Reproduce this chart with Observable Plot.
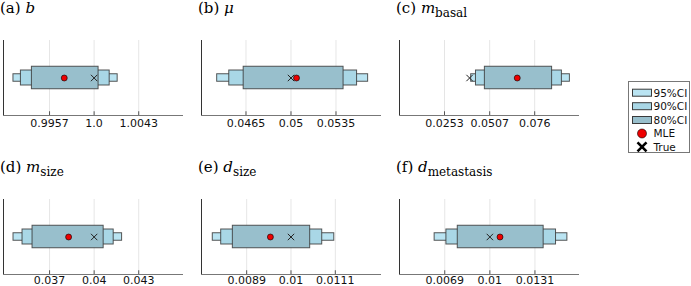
<!DOCTYPE html>
<html>
<head>
<meta charset="utf-8">
<script src="https://cdn.jsdelivr.net/npm/d3@7"></script>
<script src="https://cdn.jsdelivr.net/npm/@observablehq/plot@0.6"></script>
<style>
  html, body { margin: 0; padding: 0; background: #fff; }
  #chart { position: relative; width: 691px; height: 286px; overflow: hidden; background: #fff; }
  .panel { position: absolute; }
  .title { position: absolute; font-family: "DejaVu Serif", serif; font-size: 15px; line-height: 15px; color: #000; white-space: nowrap; }
  .title .sub { font-style: normal; font-size: 12px; position: relative; top: 4px; }
  .legend { position: absolute; left: 0; top: 0; }
</style>
</head>
<body>
<div id="chart"></div>
<script>
// ---- data ----
const panelLetters = ["a", "b", "c", "d", "e", "f"];
const paramSymbols = ["b", "μ", "m", "m", "d", "d"];
const paramSubscripts = ["", "", "basal", "size", "size", "metastasis"];

const ci95Low  = [0.99222, 0.04426, 0.0403, 0.034573, 0.008059, 0.006205];
const ci95High = [1.00227, 0.05600, 0.0958, 0.041881, 0.011074, 0.015329];
const ci90Low  = [0.99294, 0.04520, 0.0430, 0.035180, 0.008268, 0.007014];
const ci90High = [1.00150, 0.05514, 0.0913, 0.041315, 0.010775, 0.014548];
const ci80Low  = [0.99400, 0.04632, 0.0480, 0.035854, 0.008557, 0.007795];
const ci80High = [1.00043, 0.05409, 0.0858, 0.040640, 0.010476, 0.013698];
const mleValues  = [0.99712, 0.05043, 0.0662, 0.038281, 0.009489, 0.010698];
const trueValues = [1.0, 0.05, 0.0394, 0.04, 0.01, 0.01];

const tickValues = [
  [0.9957, 1.0, 1.0043],
  [0.0465, 0.05, 0.0535],
  [0.0253, 0.0507, 0.076],
  [0.037, 0.04, 0.043],
  [0.0089, 0.01, 0.0111],
  [0.0069, 0.01, 0.0131]
];
const tickLabels = [
  ["0.9957", "1.0", "1.0043"],
  ["0.0465", "0.05", "0.0535"],
  ["0.0253", "0.0507", "0.076"],
  ["0.037", "0.04", "0.043"],
  ["0.0089", "0.01", "0.0111"],
  ["0.0069", "0.01", "0.0131"]
];
const xLimits = [
  [0.99126, 1.00862],
  [0.04304, 0.05704],
  [0.0, 0.1012],
  [0.033899, 0.046014],
  [0.007779, 0.012246],
  [0.00379, 0.016162]
];

const ciLevels = ["95%CI", "90%CI", "80%CI"];
const ciHalfHeights = [0.1, 0.2, 0.3];
const ciColors = ["#bae4f2", "#a9d7e6", "#98bfcc"];

// ---- layout ----
const chart = document.getElementById("chart");
const colLeft = [3, 201, 399];
const rowTop = [40, 199];
const labelOffset = [7.5, 5.5];
const frameW = 180, frameH = 75;
const mL = 4, mR = 4, mT = 4, mB = 16;

panelLetters.forEach((letter, i) => {
  const col = i % 3, row = Math.floor(i / 3);
  const boxes = ciLevels.map((lvl, k) => ({
    level: lvl,
    lo: [ci95Low, ci90Low, ci80Low][k][i],
    hi: [ci95High, ci90High, ci80High][k][i],
    h: ciHalfHeights[k],
    color: ciColors[k]
  }));
  const ticks = tickValues[i].map((v, j) => ({value: v, label: tickLabels[i][j]}));

  const svg = Plot.plot({
    width: frameW + mL + mR,
    height: frameH + mT + mB,
    marginLeft: mL, marginRight: mR, marginTop: mT, marginBottom: mB,
    x: {domain: xLimits[i], axis: null},
    y: {domain: [-1, 1], axis: null},
    style: {background: "transparent", overflow: "visible"},
    marks: [
      Plot.ruleX(ticks, {x: "value", stroke: "#000", strokeOpacity: 0.1, strokeWidth: 1}),
      Plot.ruleY([-1], {stroke: "#777", strokeWidth: 1}),
      Plot.ruleX([xLimits[i][0]], {stroke: "#333", strokeWidth: 1}),
      Plot.ruleX(ticks, {x: "value", y1: -1, y2: -0.9, stroke: "#555", strokeWidth: 1}),
      Plot.text(ticks, {x: "value", y: -1, text: "label", dy: labelOffset[row], fontSize: 11,
        fontFamily: "DejaVu Sans, sans-serif", fill: "#111", lineAnchor: "middle"}),
      Plot.rect(boxes, {x1: "lo", x2: "hi", y1: d => -d.h, y2: d => d.h,
        fill: "color", stroke: "#3a3a3a", strokeOpacity: 0.85, strokeWidth: 1}),
      Plot.dot([trueValues[i]], {x: d => d, y: 0, symbol: "times", r: 3,
        stroke: "#222", strokeWidth: 1}),
      Plot.dot([mleValues[i]], {x: d => d, y: 0, r: 3, fill: "#ee0000",
        stroke: "#000", strokeWidth: 0.6})
    ]
  });
  svg.classList.add("panel");
  svg.style.left = (colLeft[col] - mL) + "px";
  svg.style.top = (rowTop[row] - mT) + "px";
  chart.appendChild(svg);

  const title = document.createElement("div");
  title.className = "title";
  title.style.left = (colLeft[col] - 3) + "px";
  title.style.top = (rowTop[row] - 39) + "px";
  title.innerHTML = "(" + letter + ") <i>" + paramSymbols[i] + "</i>" +
    (paramSubscripts[i] ? "<span class=\"sub\">" + paramSubscripts[i] + "</span>" : "");
  chart.appendChild(title);
});

// ---- legend ----
const legendItems = ["95%CI", "90%CI", "80%CI", "MLE", "True"];
const ns = "http://www.w3.org/2000/svg";
const leg = document.createElementNS(ns, "svg");
leg.setAttribute("width", 691);
leg.setAttribute("height", 286);
leg.setAttribute("class", "legend");
const lx = 628.5, ly = 81.5, lw = 61, lh = 71;
function el(name, attrs) {
  const e = document.createElementNS(ns, name);
  for (const k in attrs) e.setAttribute(k, attrs[k]);
  leg.appendChild(e);
  return e;
}
el("rect", {x: lx, y: ly, width: lw, height: lh, fill: "#fff", stroke: "#777", "stroke-width": 1});
const rowY = [92.7, 106.2, 120, 133.5, 146.8];
legendItems.forEach((name, k) => {
  const cy = rowY[k];
  if (k < 3) {
    el("rect", {x: 632.5, y: cy - 3.5, width: 19, height: 7, fill: ciColors[k], stroke: "#3a3a3a", "stroke-width": 1});
  } else if (name === "MLE") {
    el("circle", {cx: 642, cy: cy, r: 4.5, fill: "#ee0000", stroke: "#000", "stroke-width": 0.6});
  } else {
    el("path", {d: `M${642-4.5},${cy-4.5}L${642+4.5},${cy+4.5}M${642-4.5},${cy+4.5}L${642+4.5},${cy-4.5}`,
      stroke: "#000", "stroke-width": 2.6, fill: "none"});
  }
  const t = el("text", {x: 653.5, y: cy + 3.8, "font-family": "DejaVu Sans, sans-serif", "font-size": 10.5, fill: "#111"});
  t.textContent = name;
});
chart.appendChild(leg);
</script>
</body>
</html>
